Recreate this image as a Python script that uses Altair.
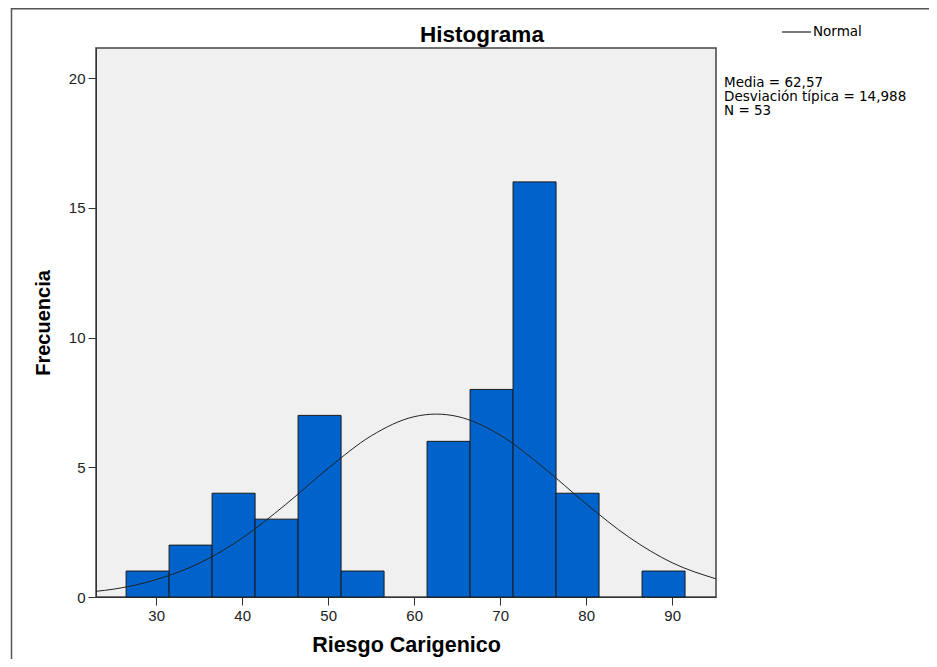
import altair as alt
import pandas as pd

# Histogram bins (width 5)
bin_start = [26.5, 31.5, 36.5, 41.5, 46.5, 51.5, 56.5, 61.5, 66.5, 71.5, 76.5, 81.5, 86.5]
bin_end = [31.5, 36.5, 41.5, 46.5, 51.5, 56.5, 61.5, 66.5, 71.5, 76.5, 81.5, 86.5, 91.5]
counts = [1, 2, 4, 3, 7, 1, 0, 6, 8, 16, 4, 0, 1]

# Normal curve points
curve_x = [23, 25, 30, 35, 40, 45, 50, 55, 60, 62.57, 65, 70, 75, 80, 85, 90, 95.1]
curve_y = [0.22, 0.30, 0.67, 1.30, 2.27, 3.55, 4.96, 6.21, 6.95, 7.05, 6.96, 6.24, 5.00, 3.59, 2.30, 1.32, 0.70]

x_ticks = [30, 40, 50, 60, 70, 80, 90]
y_ticks = [0, 5, 10, 15, 20]
stats_lines = ["Media = 62,57", "Desviación típica = 14,988", "N = 53"]
legend_label = "Normal"
title_text = "Histograma"

bars_df = pd.DataFrame({"start": bin_start, "end": bin_end, "count": counts})
bars_df = bars_df[bars_df["count"] > 0]
curve_df = pd.DataFrame({"x": curve_x, "y": curve_y})
one = pd.DataFrame({"k": [0]})

FONT = "Liberation Sans"
xscale = alt.Scale(domain=[23, 95.1], nice=False, zero=False)
yscale = alt.Scale(domain=[0, 21.16], nice=False)

bars = alt.Chart(bars_df).mark_rect(color="#0063CC", stroke="#1a1a1a", strokeWidth=1).encode(
    x=alt.X("start:Q", scale=xscale,
            axis=alt.Axis(title="Riesgo Carigenico", values=x_ticks, grid=False)),
    x2="end:Q",
    y=alt.Y("count:Q", scale=yscale,
            axis=alt.Axis(title="Frecuencia", values=y_ticks, grid=False)),
    y2=alt.datum(0),
)

line = alt.Chart(curve_df).mark_line(strokeWidth=1, interpolate="monotone", clip=True,
                                     color="#222222").encode(
    x=alt.X("x:Q", scale=xscale),
    y=alt.Y("y:Q", scale=yscale),
)

stats = alt.Chart(one).mark_text(align="left", baseline="top", fontSize=13.5, font="DejaVu Sans",
                                 color="#000", lineHeight=14).encode(
    x=alt.value(628),
    y=alt.value(28),
    text=alt.value(stats_lines),
)

leg_rule = alt.Chart(one).mark_rule(color="#222222", strokeWidth=1.2).encode(
    x=alt.value(686), x2=alt.value(715), y=alt.value(-16),
)
leg_text = alt.Chart(one).mark_text(align="left", baseline="middle", fontSize=13.5,
                                    font="DejaVu Sans", color="#000").encode(
    x=alt.value(717), y=alt.value(-16), text=alt.value(legend_label),
)

title = alt.Chart(one).mark_text(align="center", baseline="alphabetic", fontSize=22.5, font=FONT,
                                 fontWeight="bold", color="#000").encode(
    x=alt.value(386), y=alt.value(-6), text=alt.value(title_text),
)

# outer frame of the output window
frame_top = alt.Chart(one).mark_rule(color="#555555", strokeWidth=1.5).encode(
    x=alt.value(-84.5), x2=alt.value(840), y=alt.value(-39.2),
)
frame_left = alt.Chart(one).mark_rule(color="#555555", strokeWidth=1.5).encode(
    x=alt.value(-84.5), y=alt.value(-40), y2=alt.value(620),
)

chart = alt.layer(bars, line, stats, leg_rule, leg_text, title, frame_top, frame_left).properties(
    width=620, height=549,
    autosize=alt.AutoSizeParams(type="none"),
    padding={"left": 88, "top": 40, "right": 213, "bottom": 62},
).configure_view(fill="#F0F0F0", stroke="#444444", strokeWidth=1.5).configure_axis(
    domainColor="#333", tickColor="#333", tickSize=8, labelFontSize=15, labelFont=FONT,
    labelColor="#222", titleFont=FONT, titleFontWeight="bold",
    titleColor="#000", labelPadding=3,
).configure_axisX(titlePadding=11, titleFontSize=21.5).configure_axisY(titlePadding=15, titleFontSize=20)

chart.save("out.html", embed_options={"renderer": "svg", "actions": False})
